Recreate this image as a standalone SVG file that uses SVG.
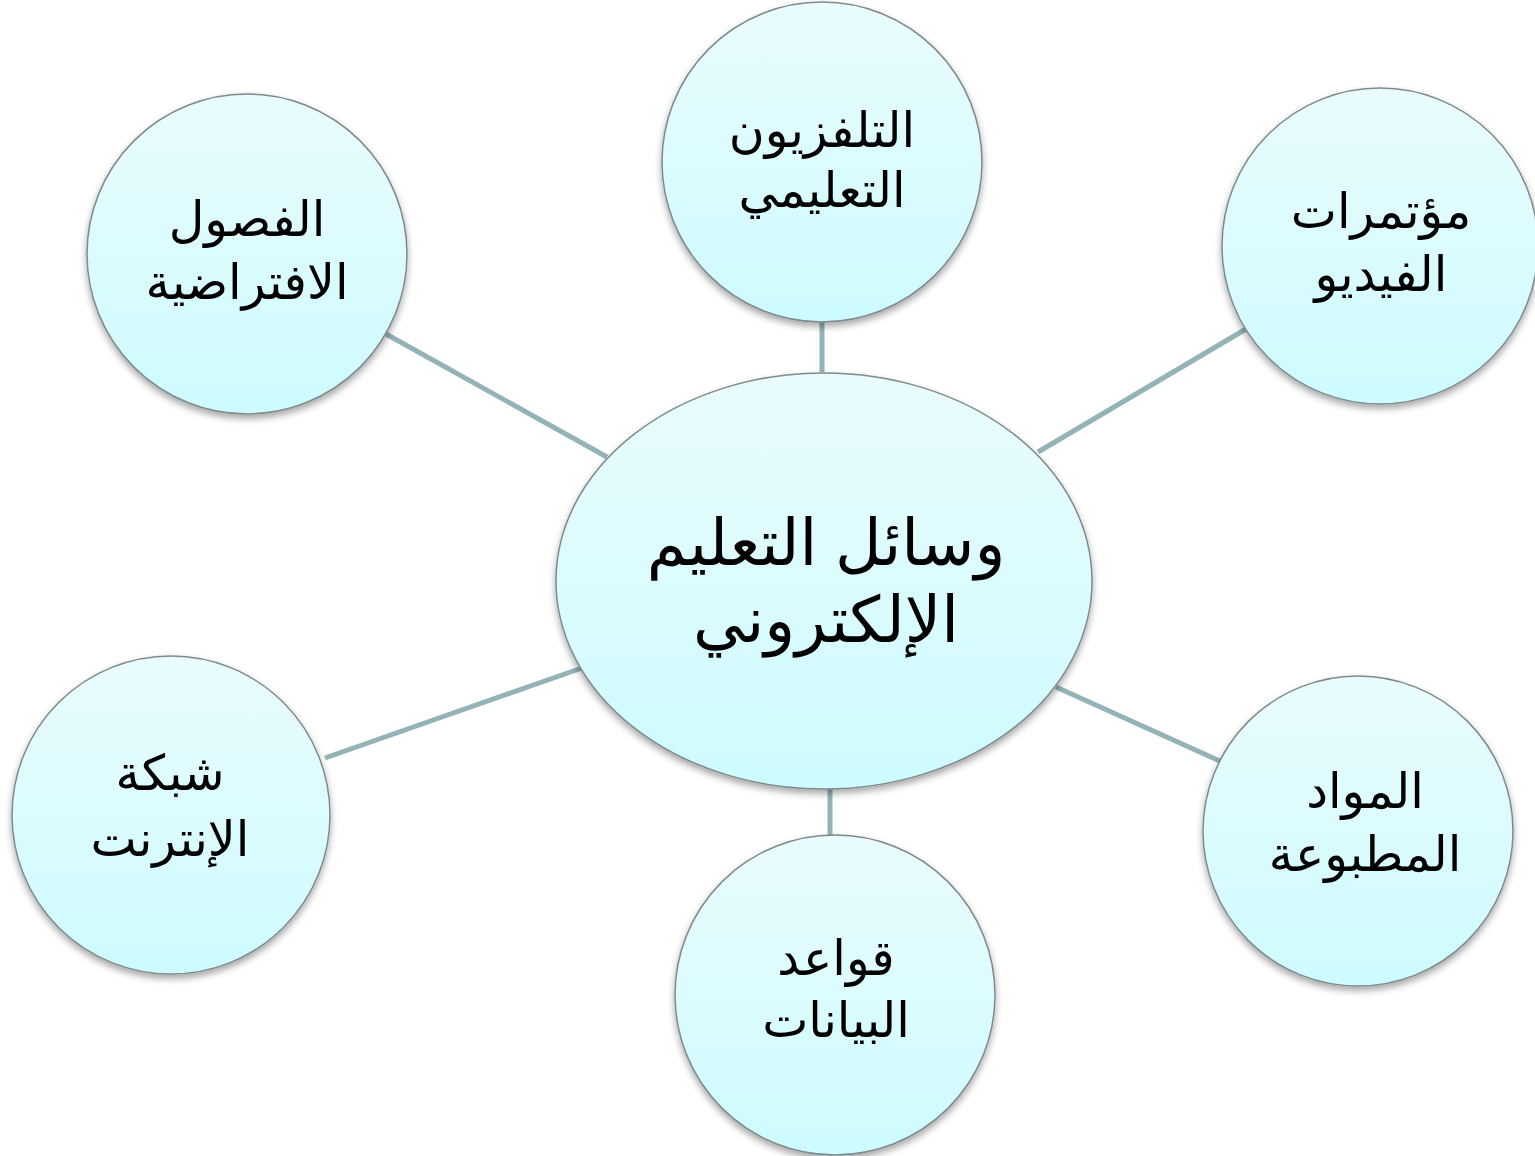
<svg xmlns="http://www.w3.org/2000/svg" width="1535" height="1156" viewBox="0 0 1535 1156">
  <defs>
    <linearGradient id="bubbleFill" x1="0" y1="0" x2="0" y2="1">
      <stop offset="0" stop-color="#eafcfd"/>
      <stop offset="1" stop-color="#cdfbff"/>
    </linearGradient>
    <filter id="softShadow" x="-10%" y="-10%" width="120%" height="125%">
      <feDropShadow dx="0" dy="4" stdDeviation="3.5" flood-color="#000" flood-opacity="0.35"/>
    </filter>
  </defs>
  <style>
    .bubble { fill: url(#bubbleFill); stroke: #7f8a8c; stroke-width: 1.5; filter: url(#softShadow); }
    .link { stroke: #94b3b7; stroke-width: 5; stroke-linecap: butt; fill: none; }
    .label { font-family: "Liberation Sans", "DejaVu Sans", sans-serif; font-size: 49px; fill: #000; text-anchor: middle; direction: rtl; }
    .hub { font-size: 64px; }
  </style>

  <rect width="1535" height="1156" fill="#ffffff"/>

  <!-- spokes from the hub to each medium -->
  <g id="connectors">
    <line class="link" x1="822" y1="320" x2="822" y2="372"/>
    <line class="link" x1="386" y1="334" x2="607" y2="457"/>
    <line class="link" x1="1246" y1="329" x2="1038" y2="452"/>
    <line class="link" x1="325" y1="758" x2="582" y2="668"/>
    <line class="link" x1="1056" y1="687" x2="1222" y2="762"/>
    <line class="link" x1="830" y1="788" x2="830" y2="836"/>
  </g>

  <g id="node-hub">
    <ellipse class="bubble" cx="824" cy="581" rx="268" ry="208"/>
    <text class="label hub" x="826" y="565">وسائل التعليم</text>
    <text class="label hub" x="826" y="642">الإلكتروني</text>
  </g>

  <g id="node-tv">
    <circle class="bubble" cx="822" cy="162" r="160"/>
    <text class="label" x="822" y="147">التلفزيون</text>
    <text class="label" x="822" y="207">التعليمي</text>
  </g>

  <g id="node-virtual-classes">
    <circle class="bubble" cx="247" cy="254" r="160"/>
    <text class="label" x="247" y="236">الفصول</text>
    <text class="label" x="247" y="299">الافتراضية</text>
  </g>

  <g id="node-video-conf">
    <circle class="bubble" cx="1380" cy="246" r="158"/>
    <text class="label" x="1381" y="228">مؤتمرات</text>
    <text class="label" x="1381" y="291">الفيديو</text>
  </g>

  <g id="node-internet">
    <circle class="bubble" cx="171" cy="815" r="159"/>
    <text class="label" x="170" y="790">شبكة</text>
    <text class="label" x="170" y="856">الإنترنت</text>
  </g>

  <g id="node-printed">
    <circle class="bubble" cx="1358" cy="831" r="155"/>
    <text class="label" x="1365" y="808">المواد</text>
    <text class="label" x="1365" y="871">المطبوعة</text>
  </g>

  <g id="node-databases">
    <circle class="bubble" cx="835" cy="995" r="160"/>
    <text class="label" x="836" y="975">قواعد</text>
    <text class="label" x="836" y="1037">البيانات</text>
  </g>
</svg>
